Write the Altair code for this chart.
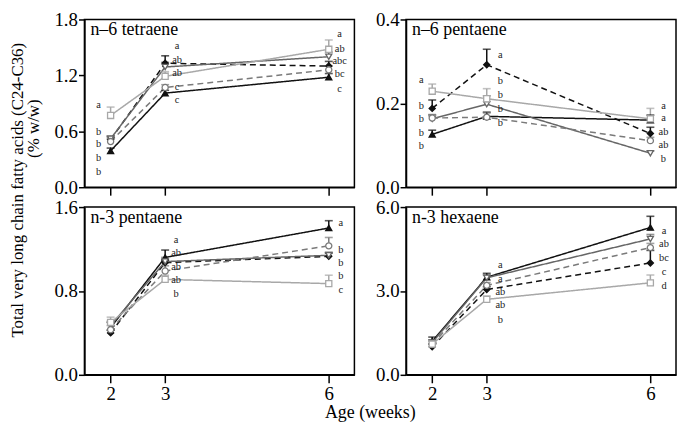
import altair as alt
import pandas as pd

weeks = [2, 3, 6]
series = ["A", "B", "C", "D", "E"]
s_color = ["#111111", "#111111", "#666666", "#7a7a7a", "#a8a8a8"]
s_fill = ["#111111", "#111111", "white", "white", "white"]
s_shape = ["triangle-up", "diamond", "triangle-down", "circle", "square"]
s_dash = [[1, 0], [6, 4], [1, 0], [6, 4], [1, 0]]

# ---- n-6 tetraene ----
t6_vals = {
    "A": [0.39, 1.01, 1.18],
    "B": [0.51, 1.33, 1.30],
    "C": [0.52, 1.29, 1.40],
    "D": [0.49, 1.07, 1.26],
    "E": [0.77, 1.19, 1.48],
}
t6_err = {
    "A": [0.03, 0.03, 0.04],
    "B": [0.03, 0.08, 0.05],
    "C": [0.03, 0.05, 0.05],
    "D": [0.03, 0.03, 0.04],
    "E": [0.09, 0.05, 0.10],
}
t6_let_x = [1.78] * 5 + [3.22] * 5 + [6.2] * 5
t6_let_y = [0.88, 0.59, 0.46, 0.31, 0.16, 1.51, 1.37, 1.23, 1.08, 0.94, 1.64, 1.48, 1.35, 1.21, 1.05]
t6_let_t = ["a", "b", "b", "b", "b", "a", "ab", "ab", "c", "c", "a", "ab", "abc", "bc", "c"]

# ---- n-6 pentaene ----
p6_vals = {
    "A": [0.126, 0.169, 0.160],
    "B": [0.188, 0.292, 0.128],
    "C": [0.163, 0.198, 0.081],
    "D": [0.165, 0.167, 0.111],
    "E": [0.229, 0.211, 0.163],
}
p6_err = {
    "A": [0.010, 0.010, 0.012],
    "B": [0.020, 0.037, 0.015],
    "C": [0.010, 0.020, 0.005],
    "D": [0.008, 0.010, 0.008],
    "E": [0.017, 0.024, 0.025],
}
p6_let_x = [1.8] * 5 + [3.25] * 5 + [6.24] * 5
p6_let_y = [0.255, 0.193, 0.163, 0.13, 0.098, 0.316, 0.253, 0.22, 0.187, 0.154, 0.194, 0.164, 0.131, 0.10, 0.068]
p6_let_t = ["a", "b", "b", "b", "b", "a", "b", "b", "b", "b", "a", "a", "ab", "ab", "b"]

# ---- n-3 pentaene ----
p3_vals = {
    "A": [0.45, 1.12, 1.40],
    "B": [0.40, 1.07, 1.13],
    "C": [0.47, 1.08, 1.14],
    "D": [0.43, 0.99, 1.23],
    "E": [0.50, 0.91, 0.87],
}
p3_err = {
    "A": [0.05, 0.07, 0.07],
    "B": [0.03, 0.03, 0.03],
    "C": [0.04, 0.04, 0.03],
    "D": [0.04, 0.05, 0.08],
    "E": [0.05, 0.04, 0.08],
}
p3_let_x = [3.2] * 5 + [6.22] * 5
p3_let_y = [1.29, 1.16, 1.03, 0.90, 0.77, 1.45, 1.19, 1.07, 0.94, 0.81]
p3_let_t = ["a", "ab", "ab", "ab", "b", "a", "b", "b", "b", "c"]

# ---- n-3 hexaene ----
h3_vals = {
    "A": [1.20, 3.49, 5.27],
    "B": [1.00, 3.05, 4.00],
    "C": [1.15, 3.47, 4.86],
    "D": [1.10, 3.20, 4.55],
    "E": [1.10, 2.70, 3.29],
}
h3_err = {
    "A": [0.15, 0.14, 0.40],
    "B": [0.10, 0.10, 0.45],
    "C": [0.10, 0.10, 0.16],
    "D": [0.10, 0.10, 0.15],
    "E": [0.10, 0.12, 0.28],
}
h3_let_x = [3.25] * 5 + [6.25] * 5
h3_let_y = [3.91, 3.42, 2.97, 2.48, 1.95, 5.16, 4.67, 4.19, 3.66, 3.17]
h3_let_t = ["a", "a", "ab", "ab", "b", "a", "ab", "bc", "c", "d"]

SERIF = "Times New Roman, Liberation Serif, DejaVu Serif, serif"
W, H = 272, 169
XDOM = [1.52, 6.47]


def long_df(vals, errs):
    rows = []
    for s in series:
        for w, v, e in zip(weeks, vals[s], errs[s]):
            rows.append({"week": w, "value": v, "top": v + e, "series": s})
    return pd.DataFrame(rows)


def panel(vals, errs, lx, ly, lt, title, ydom, yticks, xlabels, extra=None):
    df = long_df(vals, errs)
    ldf = pd.DataFrame({"week": lx, "value": ly, "txt": lt})
    x = alt.X("week:Q", scale=alt.Scale(domain=XDOM, nice=False, zero=False),
              axis=alt.Axis(values=weeks, labels=xlabels, title=None, tickSize=8,
                            labelFont=SERIF, labelFontSize=19, labelPadding=2,
                            labelColor="black", format="d"))
    y = alt.Y("value:Q", scale=alt.Scale(domain=ydom, nice=False),
              axis=alt.Axis(values=yticks, format=".1f", title=None, tickSize=6,
                            labelFont=SERIF, labelFontSize=19, labelPadding=1,
                            labelColor="black"))
    col = alt.Color("series:N", scale=alt.Scale(domain=series, range=s_color), legend=None)
    base = alt.Chart(df)
    lines = base.mark_line(strokeWidth=1.5).encode(
        x=x, y=y, color=col,
        strokeDash=alt.StrokeDash("series:N", scale=alt.Scale(domain=series, range=s_dash), legend=None),
    )
    err = base.mark_rule(strokeWidth=1.5).encode(x=x, y=y, y2="top:Q", color=col)
    cap = base.mark_tick(orient="horizontal", size=8, thickness=1.6).encode(x=x, y=alt.Y("top:Q"), color=col)
    pts = base.mark_point(size=38, strokeWidth=1.3, opacity=1).encode(
        x=x, y=y,
        shape=alt.Shape("series:N", scale=alt.Scale(domain=series, range=s_shape), legend=None),
        stroke=alt.Stroke("series:N", scale=alt.Scale(domain=series, range=s_color), legend=None),
        fill=alt.Fill("series:N", scale=alt.Scale(domain=series, range=s_fill), legend=None),
    )
    letters = alt.Chart(ldf).mark_text(font=SERIF, fontSize=10.5, color="#222222",
                                       align="center", baseline="middle").encode(
        x=x, y=y, text="txt:N")
    ttl = alt.Chart(pd.DataFrame({"t": [title]})).mark_text(
        font=SERIF, fontSize=18, align="left", baseline="middle", color="black"
    ).encode(x=alt.value(6), y=alt.value(11), text="t:N")
    layers = [lines, err, cap, pts, letters, ttl]
    if extra is not None:
        layers += extra
    return alt.layer(*layers).properties(width=W, height=H)


ytitle1 = alt.Chart(pd.DataFrame({"t": ["Total very long chain fatty acids (C24-C36)"]})).mark_text(
    font=SERIF, fontSize=17, angle=270, align="center", baseline="middle", color="black"
).encode(x=alt.value(-67), y=alt.value(172), text="t:N")
ytitle2 = alt.Chart(pd.DataFrame({"t": ["(% w/w)"]})).mark_text(
    font=SERIF, fontSize=17, angle=270, align="center", baseline="middle", color="black"
).encode(x=alt.value(-51), y=alt.value(110), text="t:N")
xtitle = alt.Chart(pd.DataFrame({"t": ["Age (weeks)"]})).mark_text(
    font=SERIF, fontSize=18, align="center", baseline="middle", color="black"
).encode(x=alt.value(288), y=alt.value(208), text="t:N")

tl = panel(t6_vals, t6_err, t6_let_x, t6_let_y, t6_let_t, "n\u20136 tetraene",
           [0, 1.8], [0.0, 0.6, 1.2, 1.8], False, [ytitle1, ytitle2])
tr = panel(p6_vals, p6_err, p6_let_x, p6_let_y, p6_let_t, "n\u20136 pentaene",
           [0, 0.4], [0.0, 0.2, 0.4], False)
bl = panel(p3_vals, p3_err, p3_let_x, p3_let_y, p3_let_t, "n-3 pentaene",
           [0, 1.6], [0.0, 0.8, 1.6], True, [xtitle])
br = panel(h3_vals, h3_err, h3_let_x, h3_let_y, h3_let_t, "n-3 hexaene",
           [0, 6.0], [0.0, 3.0, 6.0], True)

chart = alt.concat(tl, tr, bl, br, columns=2, spacing={"row": 20, "column": 52},
                   bounds="flush").properties(
    padding={"left": 0, "top": 0, "right": 0, "bottom": 0},
    background="white",
).configure_view(stroke="black", strokeWidth=1.5).configure_axis(
    labelFont=SERIF, labelColor="black", domainColor="black", tickColor="black",
    domainWidth=1.5, tickWidth=1.5, grid=False
)

chart.save("out.html", embed_options={"renderer": "svg", "actions": False})
